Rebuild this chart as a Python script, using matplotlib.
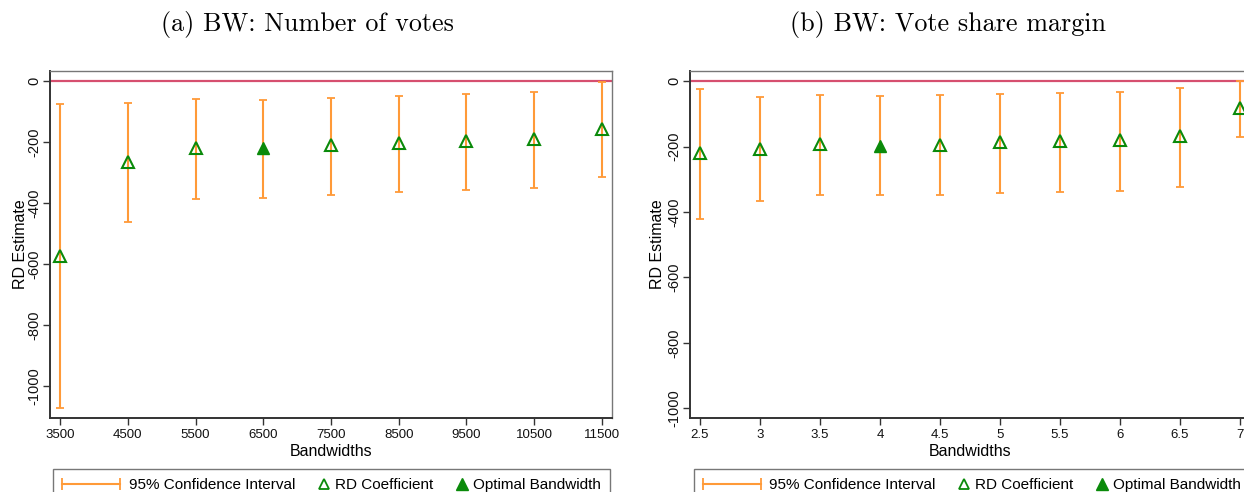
import numpy as np
import matplotlib
matplotlib.use('Agg')
import matplotlib.pyplot as plt
from matplotlib.lines import Line2D
from matplotlib.legend_handler import HandlerLine2D

plt.rcParams['font.family'] = ['Liberation Sans', 'DejaVu Sans']

# panel (a): bandwidth in number of votes
bw_votes = [3500, 4500, 5500, 6500, 7500, 8500, 9500, 10500, 11500]
coef_votes = [-574, -267, -221, -219, -210, -202, -198, -189, -156]
lo_votes = [-1073, -463, -387, -382, -374, -365, -358, -350, -316]
hi_votes = [-75, -73, -60, -62, -57, -48, -44, -36, -4]
opt_votes = 6500

# panel (b): bandwidth in vote share margin
bw_share = [2.5, 3, 3.5, 4, 4.5, 5, 5.5, 6, 6.5, 7]
coef_share = [-221, -206, -193, -198, -194, -187, -184, -181, -168, -81]
lo_share = [-422, -367, -348, -349, -347, -342, -339, -335, -323, -170]
hi_share = [-23, -50, -43, -45, -43, -38, -35, -32, -20, 0]
opt_share = 4

share_labels = ['2.5', '3', '3.5', '4', '4.5', '5', '5.5', '6', '6.5', '7']
yticks = [0, -200, -400, -600, -800, -1000]

orange = '#ff9a38'
green = '#0a8a0a'
red = '#d64f6f'


class MarkerRight(HandlerLine2D):
    # single marker: it is drawn in the middle of xdata, so keep xdata near the right end
    def get_xdata(self, legend, xdescent, ydescent, width, height, fontsize):
        x0 = -xdescent + width
        return [x0 - 4, x0], [x0 - 2]


def panel(ax, x, coef, lo, hi, opt, xlim, ylim):
    x = np.array(x, dtype=float)
    coef = np.array(coef, dtype=float)
    lo = np.array(lo, dtype=float)
    hi = np.array(hi, dtype=float)
    ax.axhline(0, color=red, lw=1.6, zorder=1)
    ax.errorbar(x, coef, yerr=[coef - lo, hi - coef], fmt='none', ecolor=orange,
                elinewidth=1.5, capsize=2.8, capthick=1.3, zorder=2)
    m = x != opt
    ax.plot(x[m], coef[m], ls='none', marker='^', ms=8, mfc='none', mec=green,
            mew=1.5, zorder=3)
    ax.plot(x[~m], coef[~m], ls='none', marker='^', ms=9, mfc=green, mec=green,
            zorder=3)
    ax.set_xlim(*xlim)
    ax.set_ylim(*ylim)
    ax.set_yticks(yticks)
    ax.set_yticklabels([str(v) for v in yticks], rotation=90, va='center')
    ax.tick_params(axis='both', direction='out', length=5, width=1, color='#333333',
                   labelcolor='#111111')
    ax.tick_params(axis='y', pad=1, labelsize=10.5)
    ax.tick_params(axis='x', pad=3, labelsize=9.5)
    for s in ['left', 'bottom']:
        ax.spines[s].set_color('#333333')
        ax.spines[s].set_linewidth(1.4)
    for s in ['top', 'right']:
        ax.spines[s].set_color('#777777')
        ax.spines[s].set_linewidth(1.0)
    ax.set_ylabel('RD Estimate', fontsize=11.5)
    ax.set_xlabel('Bandwidths', fontsize=11.5)


W, H = 1244, 492
fig = plt.figure(figsize=(W / 100, H / 100), dpi=100)

ax1 = fig.add_axes([50 / W, 1 - 418 / H, 562 / W, 347 / H])
panel(ax1, bw_votes, coef_votes, lo_votes, hi_votes, opt_votes,
      (3352, 11648), (-1105, 33))
ax1.set_xticks(bw_votes)
ax1.yaxis.set_label_coords(-0.039, 0.5)
ax1.xaxis.set_label_coords(0.5, -0.075)

ax2 = fig.add_axes([690 / W, 1 - 418 / H, 560 / W, 347 / H])
panel(ax2, bw_share, coef_share, lo_share, hi_share, opt_share,
      (2.417, 7.083), (-1030, 31))
ax2.set_xticks(bw_share)
ax2.set_xticklabels(share_labels)
ax2.yaxis.set_label_coords(-0.045, 0.5)
ax2.xaxis.set_label_coords(0.5, -0.075)

fig.text(307 / W, 1 - 25 / H, '(a) BW: Number of votes', family='cmr10',
         ha='center', va='center', fontsize=18.8)
fig.text(948 / W, 1 - 25 / H, '(b) BW: Vote share margin', family='cmr10',
         ha='center', va='center', fontsize=18.8)

# legends
h_ci = Line2D([], [], color=orange, lw=1.5, marker='|', ms=8, mew=1.3)
h_rd = Line2D([], [], ls='none', marker='^', ms=7, mfc='none', mec=green, mew=1.3)
h_opt = Line2D([], [], ls='none', marker='^', ms=9, mfc=green, mec=green)
hmap = {h_ci: HandlerLine2D(numpoints=2, marker_pad=0),
        h_rd: MarkerRight(), h_opt: MarkerRight()}
labels = ['95% Confidence Interval', 'RD Coefficient', 'Optimal Bandwidth']
for cx in [331.5 / W, 972 / W]:
    leg = fig.legend([h_ci, h_rd, h_opt], labels, handler_map=hmap, ncol=3,
                     loc='upper center', bbox_to_anchor=(cx, 1 - 469 / H),
                     borderaxespad=0, fontsize=11, handlelength=3.8,
                     handletextpad=0.55, columnspacing=-1.75, borderpad=0.6,
                     frameon=True, fancybox=False)
    leg.get_frame().set_edgecolor('#555555')
    leg.get_frame().set_linewidth(1.0)

fig.savefig('out.png', dpi=100)
